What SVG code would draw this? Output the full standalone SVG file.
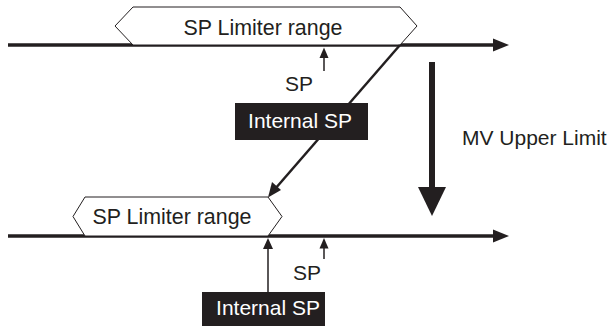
<svg xmlns="http://www.w3.org/2000/svg" width="609" height="326" viewBox="0 0 609 326">
<style>
.t{font-family:"Liberation Sans",Arial,sans-serif;font-size:21px;fill:#231f20}
.r{font-size:21.4px}
.w{font-family:"Liberation Sans",Arial,sans-serif;font-size:21px;fill:#ffffff}
.hex{fill:#ffffff;stroke:#231f20;stroke-width:1}
.box{fill:#231f20}
.ln{stroke:#231f20;fill:none}
.ah{fill:#231f20}
</style>
<rect width="609" height="326" fill="#ffffff"/>
<g id="axis-top">
<line class="ln" x1="8" y1="45" x2="495" y2="45" stroke-width="3.5"/>
<polygon class="ah" points="493,38.5 509,45 493,51.5"/>
</g>
<g id="axis-bottom">
<line class="ln" x1="8" y1="236" x2="495" y2="236" stroke-width="3.5"/>
<polygon class="ah" points="493,229.5 509,236 493,242.5"/>
</g>
<g id="range-top">
<polygon class="hex" points="115,26 133,7 400,7 417,26 400,45 133,45"/>
<text class="t r" x="263" y="35" text-anchor="middle">SP Limiter range</text>
</g>
<g id="range-bottom">
<polygon class="hex" points="73,216.5 85,197 268,197 282,216.5 268,236 85,236"/>
<text class="t r" x="172" y="224" text-anchor="middle">SP Limiter range</text>
</g>
<g id="connectors">
<line class="ln" x1="400" y1="45" x2="275" y2="189" stroke-width="2.5"/>
<polygon class="ah" points="268,197.5 272,182 281,190"/>
<line class="ln" x1="324" y1="71" x2="324" y2="56" stroke-width="1.5"/>
<polygon class="ah" points="324,47.5 319.5,58 328.5,58"/>
<line class="ln" x1="324" y1="259" x2="324" y2="247" stroke-width="1.5"/>
<polygon class="ah" points="324,238 319.5,248.5 328.5,248.5"/>
<line class="ln" x1="268" y1="292" x2="268" y2="246" stroke-width="1.5"/>
<polygon class="ah" points="268,238 263,249 273,249"/>
<line class="ln" x1="432" y1="62" x2="432" y2="190" stroke-width="6"/>
<polygon class="ah" points="418,187 446,187 432,216"/>
</g>
<g id="internal-sp-top">
<rect class="box" x="235" y="103" width="133" height="37"/>
<text class="w" x="300" y="128" text-anchor="middle">Internal SP</text>
</g>
<g id="internal-sp-bottom">
<rect class="box" x="202" y="292" width="123" height="34"/>
<text class="w" x="268" y="315" text-anchor="middle">Internal SP</text>
</g>
<g id="sp-label-top">
<text class="t" x="299" y="90.5" text-anchor="middle">SP</text>
</g>
<g id="sp-label-bottom">
<text class="t" x="307" y="280" text-anchor="middle">SP</text>
</g>
<g id="mv-label">
<text class="t" x="462" y="145">MV Upper Limit</text>
</g>
</svg>
